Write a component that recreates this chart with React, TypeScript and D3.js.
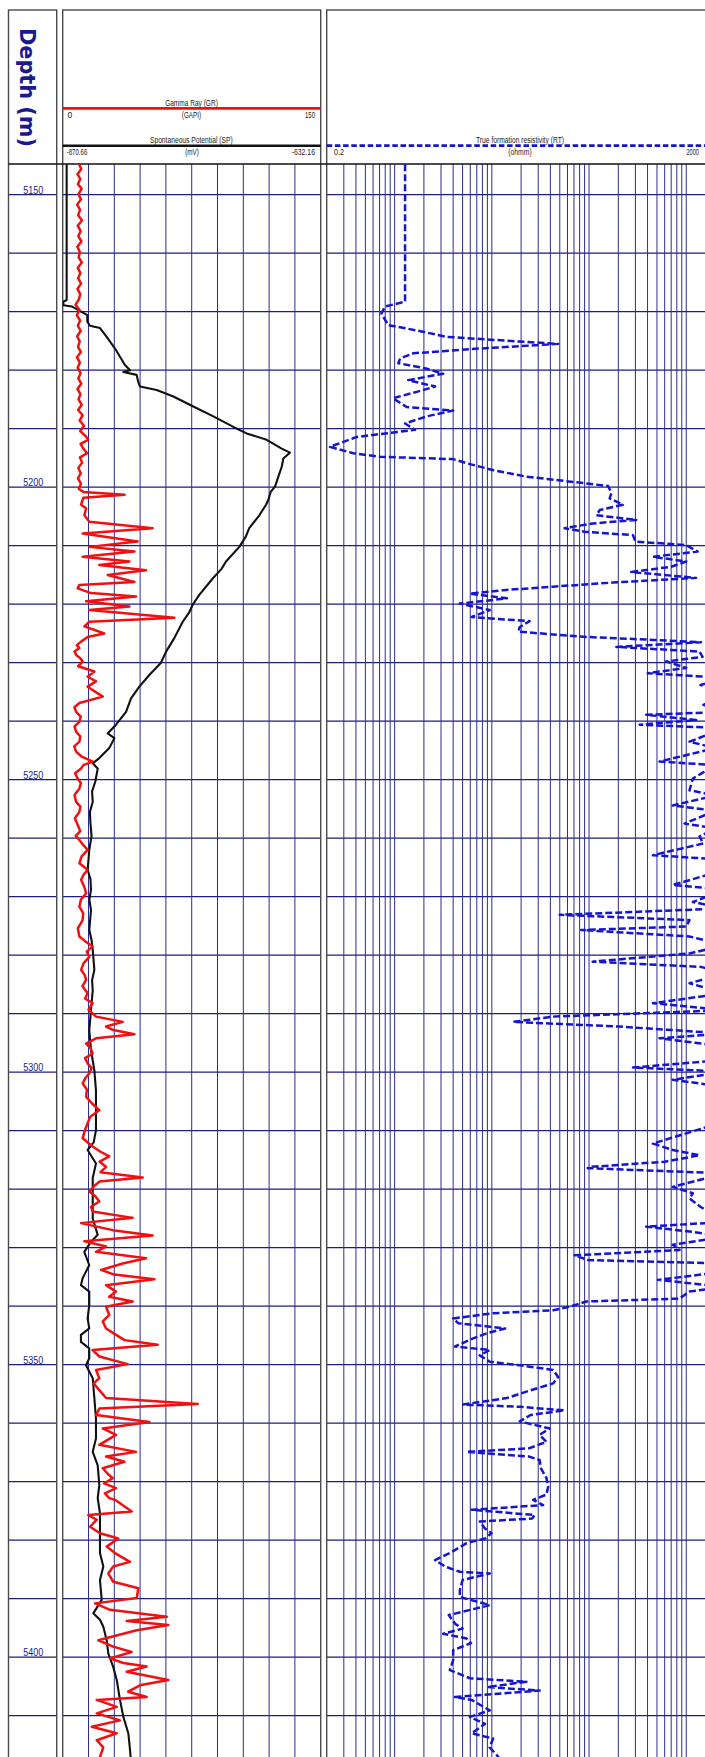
import React from 'react';
import * as d3 from 'd3';

// ---------- data ----------
const depthLabels = [5150, 5200, 5250, 5300, 5350, 5400];
const depthGrid = [5150, 5160, 5170, 5180, 5190, 5200, 5210, 5220, 5230, 5240, 5250, 5260, 5270, 5280, 5290, 5300, 5310, 5320, 5330, 5340, 5350, 5360, 5370, 5380, 5390, 5400, 5410];
const grGrid = [15, 30, 45, 60, 75, 90, 105, 120, 135];

// Gamma Ray (GAPI) vs depth (m)
const grData: [number, number][] = [
  [5144.8, 9.5], [5145.6, 10.8], [5146.5, 8.6], [5147.3, 10.2], [5148.2, 8.9], [5149.0, 11.0], [5149.9, 9.2], [5150.8, 10.6],
  [5151.7, 8.4], [5152.6, 10.1], [5153.5, 9.0], [5154.4, 11.2], [5155.3, 8.7], [5156.2, 10.4], [5157.1, 9.1], [5158.0, 10.9],
  [5158.9, 8.5], [5159.8, 10.0], [5160.7, 9.3], [5161.6, 11.1], [5162.5, 8.8], [5163.4, 10.3], [5164.3, 9.0], [5165.2, 10.7],
  [5166.1, 8.6], [5167.0, 10.2], [5167.9, 9.4], [5168.8, 7.5], [5169.7, 9.8], [5170.6, 8.2], [5171.5, 10.1], [5172.4, 8.8],
  [5173.3, 10.5], [5174.2, 8.4], [5175.1, 9.9], [5176.0, 8.9], [5176.9, 10.6], [5177.8, 8.3], [5178.7, 10.0], [5179.6, 8.7],
  [5180.5, 10.4], [5181.4, 9.1], [5182.3, 10.8], [5183.2, 8.6], [5184.1, 10.3], [5185.0, 9.2], [5185.9, 11.0], [5186.8, 9.0],
  [5187.7, 11.6], [5188.6, 9.8], [5189.5, 12.4], [5190.4, 10.2], [5191.3, 13.5], [5191.9, 14.8], [5192.6, 10.4], [5193.4, 12.0],
  [5194.2, 14.2], [5194.9, 10.0], [5195.8, 11.3], [5196.7, 9.1], [5197.6, 10.5], [5198.5, 8.9], [5199.4, 10.6], [5200.3, 9.4],
  [5200.8, 12.0], [5201.3, 36.0], [5201.8, 12.0], [5203.0, 10.7], [5203.6, 13.6], [5204.8, 12.6], [5205.9, 15.5], [5207.0, 52.3],
  [5207.9, 11.6], [5209.3, 43.6], [5210.2, 15.5], [5211.0, 41.7], [5211.9, 11.6], [5212.7, 38.8], [5213.3, 21.3], [5214.2, 48.4],
  [5215.0, 26.2], [5216.2, 41.7], [5216.7, 9.7], [5217.3, 8.7], [5218.1, 16.5], [5218.7, 42.6], [5219.5, 13.6], [5220.4, 38.8],
  [5221.0, 15.5], [5222.3, 64.9], [5223.0, 15.5], [5223.8, 12.6], [5225.0, 24.2], [5225.6, 14.5], [5226.4, 10.7], [5227.0, 8.2],
  [5227.5, 9.7], [5228.1, 6.9], [5228.7, 7.8], [5229.2, 10.1], [5229.8, 11.6], [5230.6, 9.0], [5231.5, 18.4], [5232.4, 14.5],
  [5233.2, 19.4], [5234.1, 14.5], [5235.8, 23.3], [5236.9, 9.7], [5237.6, 6.8], [5238.4, 7.8], [5239.2, 10.5], [5240.1, 9.7],
  [5240.9, 6.9], [5241.8, 7.8], [5242.6, 10.2], [5243.5, 9.7], [5244.3, 6.7], [5245.2, 7.8], [5246.0, 10.8], [5246.9, 17.4],
  [5247.5, 12.0], [5248.1, 10.7], [5248.9, 7.2], [5249.8, 8.7], [5250.6, 10.6], [5251.5, 9.7], [5252.6, 6.9], [5253.8, 7.8],
  [5254.6, 10.3], [5255.5, 9.7], [5256.6, 7.1], [5257.7, 8.7], [5258.8, 10.2], [5259.6, 7.6], [5260.3, 9.7], [5261.2, 12.0],
  [5262.0, 14.5], [5263.1, 11.0], [5264.3, 9.7], [5265.4, 14.5], [5266.2, 12.2], [5267.1, 10.7], [5268.3, 12.5], [5269.4, 13.6],
  [5270.5, 10.6], [5271.7, 9.7], [5272.8, 11.9], [5274.0, 11.6], [5275.4, 8.8], [5276.8, 9.7], [5277.6, 13.0], [5278.5, 17.4],
  [5279.4, 14.0], [5280.3, 15.5], [5281.4, 12.1], [5282.5, 10.7], [5283.4, 12.8], [5284.2, 13.6], [5285.3, 11.5], [5286.5, 14.5],
  [5287.4, 13.0], [5288.2, 17.4], [5289.3, 15.0], [5290.5, 19.4], [5291.4, 34.9], [5292.2, 25.2], [5292.8, 29.5], [5293.5, 41.7],
  [5294.2, 19.4], [5295.1, 13.6], [5295.9, 16.2], [5296.8, 17.4], [5297.6, 13.0], [5298.5, 14.5], [5299.3, 16.8], [5300.2, 15.5],
  [5301.0, 13.2], [5301.9, 11.6], [5303.0, 14.1], [5304.2, 13.6], [5305.4, 17.2], [5306.5, 21.3], [5307.6, 16.0], [5308.7, 14.5],
  [5310.0, 12.8], [5311.3, 11.6], [5312.7, 17.4], [5313.6, 22.0], [5314.4, 27.1], [5315.3, 21.5], [5316.2, 25.2], [5317.1, 22.0],
  [5318.0, 46.5], [5318.7, 21.3], [5319.5, 18.2], [5320.4, 15.5], [5321.2, 19.0], [5322.1, 21.3], [5323.0, 16.5], [5323.8, 17.4],
  [5324.9, 40.7], [5325.8, 10.7], [5327.0, 29.1], [5327.9, 52.3], [5328.9, 12.6], [5329.8, 25.2], [5330.7, 19.4], [5331.8, 48.4],
  [5332.7, 34.9], [5333.8, 22.3], [5334.6, 30.0], [5335.4, 53.3], [5336.4, 25.2], [5337.5, 31.0], [5338.4, 27.0], [5339.2, 40.7],
  [5340.1, 25.2], [5341.5, 27.1], [5342.6, 23.3], [5343.8, 25.2], [5344.9, 31.0], [5345.8, 36.0], [5346.6, 55.2], [5347.5, 17.4],
  [5348.6, 21.3], [5349.9, 37.8], [5350.9, 19.4], [5352.3, 21.3], [5353.2, 18.0], [5354.0, 20.3], [5355.7, 25.2], [5356.7, 78.5],
  [5357.5, 21.3], [5358.6, 19.4], [5359.8, 50.4], [5360.9, 23.3], [5362.0, 31.0], [5363.7, 21.3], [5364.9, 42.6], [5365.7, 25.2],
  [5366.6, 35.9], [5367.7, 23.3], [5368.6, 26.0], [5369.4, 29.1], [5370.3, 24.0], [5371.1, 31.0], [5372.0, 24.5], [5372.8, 27.1],
  [5373.1, 30.4], [5375.1, 40.1], [5375.7, 14.9], [5376.5, 19.8], [5377.7, 15.9], [5378.8, 21.7], [5379.7, 32.3], [5381.1, 25.6],
  [5382.2, 30.4], [5383.7, 39.1], [5384.5, 29.4], [5385.7, 26.5], [5387.1, 29.4], [5388.2, 44.0], [5389.9, 43.0], [5390.8, 18.8],
  [5391.9, 27.5], [5393.1, 60.5], [5393.8, 37.2], [5394.5, 61.4], [5395.4, 43.0], [5397.1, 20.7], [5398.2, 29.4], [5399.1, 40.1],
  [5400.2, 27.5], [5401.0, 35.3], [5401.6, 48.8], [5402.5, 37.2], [5403.9, 61.4], [5404.8, 44.9], [5405.9, 38.1], [5406.8, 48.8],
  [5407.3, 19.8], [5408.5, 31.4], [5409.6, 19.8], [5410.8, 33.3], [5411.9, 16.9], [5413.0, 31.4], [5414.2, 19.8], [5415.4, 23.6],
  [5417.0, 21.7], [5418.0, 24.0],
];

// Spontaneous Potential (mV) vs depth (m)
const spData: [number, number][] = [
  [5144.8, -867.0], [5168.0, -867.0], [5168.3, -870.1], [5168.9, -869.9], [5169.1, -862.3], [5170.6, -847.9], [5171.7, -847.9],
  [5172.4, -845.4], [5172.8, -836.2], [5174.3, -830.0], [5175.1, -826.9], [5176.3, -822.3], [5177.7, -817.7], [5179.1, -813.1],
  [5180.0, -808.4], [5180.3, -814.6], [5180.8, -802.3], [5182.0, -800.8], [5182.8, -799.2], [5183.4, -783.8], [5184.5, -768.4],
  [5186.2, -749.9], [5187.9, -731.4], [5189.7, -712.9], [5190.8, -700.6], [5191.9, -682.1], [5193.4, -668.2], [5194.1, -660.6],
  [5195.1, -666.7], [5196.5, -668.2], [5198.2, -671.3], [5199.9, -674.4], [5200.8, -678.4], [5202.2, -680.6], [5203.0, -682.7],
  [5204.8, -688.9], [5207.0, -698.2], [5208.5, -701.5], [5210.2, -707.4], [5212.7, -719.7], [5214.0, -724.0], [5215.6, -732.0],
  [5218.4, -744.4], [5220.1, -750.5], [5221.5, -754.0], [5223.0, -759.7], [5225.8, -767.5], [5228.1, -775.1], [5230.0, -779.8],
  [5232.1, -790.6], [5234.1, -799.8], [5236.1, -807.5], [5238.4, -812.1], [5240.6, -821.4], [5242.1, -829.1], [5242.9, -822.9],
  [5244.6, -827.6], [5246.3, -836.8], [5247.2, -842.9], [5248.1, -838.3], [5250.3, -840.5], [5252.0, -843.5], [5253.8, -842.9],
  [5255.5, -845.5], [5257.2, -845.1], [5259.6, -844.0], [5262.0, -846.1], [5265.4, -847.6], [5267.0, -845.0], [5268.8, -844.5],
  [5270.5, -846.0], [5272.3, -844.5], [5275.7, -846.1], [5277.4, -844.0], [5279.1, -842.9], [5282.5, -841.4], [5284.3, -843.5],
  [5286.0, -842.9], [5289.4, -844.5], [5292.8, -846.1], [5296.2, -844.5], [5299.7, -841.4], [5303.1, -839.9], [5306.5, -839.9],
  [5309.9, -839.9], [5312.0, -842.0], [5313.3, -847.6], [5315.6, -839.9], [5318.1, -842.9], [5321.6, -842.9], [5325.0, -842.9],
  [5327.8, -838.3], [5329.0, -844.5], [5330.7, -850.7], [5333.0, -846.1], [5335.2, -852.2], [5336.4, -853.8], [5337.5, -846.1],
  [5339.8, -846.1], [5342.1, -847.6], [5343.8, -846.1], [5344.9, -853.8], [5346.1, -853.8], [5347.2, -846.1], [5348.9, -846.1],
  [5350.1, -849.1], [5352.3, -842.9], [5355.7, -841.4], [5359.2, -839.9], [5362.6, -839.9], [5364.9, -842.9], [5367.2, -838.3],
  [5370.6, -836.8], [5372.8, -838.3], [5375.4, -836.2], [5377.7, -836.2], [5380.0, -836.2], [5382.2, -836.2], [5384.5, -833.1],
  [5386.8, -836.2], [5390.2, -834.6], [5392.5, -842.4], [5393.6, -836.2], [5394.8, -833.1], [5397.1, -830.0], [5399.4, -828.5],
  [5401.7, -823.9], [5403.9, -820.7], [5407.3, -817.7], [5410.2, -814.6], [5413.0, -810.0], [5415.9, -808.4], [5418.0, -807.5],
];

// True formation resistivity (ohmm) vs depth (m)
const rtData: [number, number][] = [
  [5144.8, 1.28], [5168.3, 1.28], [5169.1, 0.80], [5170.3, 0.73], [5172.3, 0.86], [5173.2, 1.69], [5174.3, 3.43], [5175.1, 19.4],
  [5175.5, 48], [5176.3, 7.5], [5177.1, 1.56], [5178.0, 1.14], [5178.8, 1.09], [5179.7, 2.1], [5180.6, 3.16], [5181.7, 1.38],
  [5182.8, 2.61], [5183.7, 1.69], [5184.8, 0.96], [5186.3, 1.33], [5186.9, 4.0], [5187.9, 2.13], [5189.1, 1.28], [5190.2, 1.62],
  [5191.4, 0.41], [5193.1, 0.216], [5194.2, 0.375], [5194.8, 0.71], [5195.2, 4.0], [5195.9, 5.5], [5197.1, 10.4], [5198.2, 22.7],
  [5199.1, 69], [5199.8, 157], [5201.0, 170], [5201.9, 163], [5203.0, 223], [5203.9, 129], [5204.8, 119], [5205.6, 306],
  [5206.2, 109], [5207.0, 56], [5207.6, 90], [5208.2, 283], [5209.3, 300], [5209.9, 1000], [5211.0, 1310], [5211.9, 454],
  [5212.7, 1000], [5213.6, 700], [5214.5, 272], [5215.5, 1262], [5216.3, 176], [5217.0, 42.7], [5217.6, 13.2], [5218.2, 5.94],
  [5219.0, 14.3], [5219.9, 4.69], [5221.0, 9.53], [5222.2, 6.19], [5222.9, 24.5], [5223.9, 19.4], [5224.7, 18.7], [5225.6, 94],
  [5226.1, 454], [5226.5, 1420], [5227.3, 191], [5228.1, 1370], [5229.0, 1470], [5229.8, 622], [5230.9, 1000], [5231.8, 402],
  [5232.6, 2500], [5233.8, 1400], [5235.5, 2500], [5237.2, 1500], [5238.4, 2500], [5238.9, 387], [5239.8, 1262], [5240.6, 331],
  [5241.2, 2500], [5243.5, 1080], [5244.6, 2000], [5246.9, 531], [5247.5, 2000], [5249.8, 1170], [5251.8, 1080], [5252.7, 2000],
  [5254.4, 728], [5255.3, 2000], [5257.5, 960], [5258.3, 2000], [5259.7, 1370], [5260.9, 1500], [5262.9, 454], [5263.7, 2500],
  [5265.4, 2500], [5268.0, 728], [5268.8, 2500], [5270.9, 1170], [5272.0, 2500], [5273.1, 50], [5274.0, 1080], [5275.1, 1000],
  [5275.7, 83], [5276.8, 1080], [5278.3, 2500], [5279.7, 1080], [5281.1, 109], [5282.0, 1420], [5283.1, 2500], [5284.8, 1080],
  [5286.5, 2500], [5288.2, 454], [5289.4, 2500], [5290.5, 42.7], [5291.4, 16.6], [5292.2, 206], [5293.4, 2500], [5294.2, 531],
  [5295.6, 2500], [5297.9, 2500], [5299.2, 283], [5299.9, 2500], [5301.3, 728], [5302.5, 2500], [5308.7, 2200], [5312.2, 454],
  [5313.3, 728], [5314.2, 1370], [5315.3, 600], [5316.2, 101], [5316.4, 97], [5317.3, 2500], [5319.6, 728], [5320.7, 1170],
  [5321.6, 1080], [5323.0, 1400], [5325.6, 2500], [5326.4, 387], [5327.3, 1170], [5328.1, 2500], [5329.5, 728], [5330.4, 853],
  [5331.3, 71], [5332.1, 97], [5332.7, 2500], [5334.1, 2500], [5335.5, 512], [5336.7, 2500], [5337.5, 1080], [5338.7, 853],
  [5339.2, 94], [5340.1, 63], [5340.7, 42.7], [5341.2, 10.3], [5342.1, 4.0], [5342.9, 4.5], [5343.8, 13.7], [5344.6, 9],
  [5345.5, 6.42], [5346.9, 4.16], [5347.5, 9.53], [5348.4, 7.5], [5349.5, 9.53], [5350.1, 19.4], [5350.9, 42.7], [5352.1, 48.1],
  [5353.2, 42.7], [5354.6, 22.7], [5355.7, 14.3], [5356.8, 5.06], [5357.2, 19.4], [5357.8, 56], [5358.6, 25], [5359.7, 19.4],
  [5360.9, 39.4], [5362.0, 31], [5363.2, 36.5], [5364.3, 24], [5364.9, 5.5], [5365.7, 24], [5366.3, 31], [5367.7, 32],
  [5369.4, 36.5], [5370.8, 38], [5372.2, 36.5], [5373.1, 26.6], [5374.0, 33.7], [5374.8, 6.19], [5375.7, 27.6], [5376.3, 26],
  [5376.8, 7.52], [5378.0, 8.5], [5378.8, 9.92], [5379.7, 8.5], [5380.5, 5.5], [5382.2, 3.7], [5383.4, 2.61], [5384.5, 3.3],
  [5385.4, 4.69], [5385.7, 9.53], [5386.8, 5.0], [5388.5, 4.69], [5389.7, 4.69], [5391.1, 9.53], [5392.8, 3.6], [5394.3, 4.2],
  [5395.1, 5.0], [5396.0, 3.16], [5396.8, 5.5], [5397.6, 6.1], [5398.8, 4.0], [5400.5, 4.0], [5402.2, 3.7], [5403.6, 5.94],
  [5404.2, 22.7], [5405.1, 9.0], [5405.7, 31], [5406.8, 4.16], [5407.3, 6.2], [5409.1, 9.53], [5410.2, 5.94], [5411.4, 8.5],
  [5413.0, 6.2], [5413.9, 10.3], [5415.4, 9.5], [5417.0, 11.6], [5418.0, 12],
];

const grRange = [0, 150];
const spRange = [-870.66, -632.16];
const rtRange = [0.2, 2000];
const grLabels = ['0', '150'];
const spLabels = ['-870.66', '-632.16'];
const rtLabels = ['0.2', '2000'];

// ---------- layout ----------
const W = 705;
const H = 1757;
const TOP = 10;
const HEAD_BOTTOM = 164;
const DEPTH_L = 8.5, DEPTH_R = 56.7;
const GR_L = 62.7, GR_R = 320.7;
const RT_L = 326.7, RT_R = 326.7 + 4 * 97.2;

const yScale = d3.scaleLinear().domain([5150, 5400]).range([194.7, 1657.2]);
const grScale = d3.scaleLinear().domain(grRange).range([GR_L, GR_R]);
const spScale = d3.scaleLinear().domain(spRange).range([GR_L, GR_R]);
const rtScale = d3.scaleLog().domain(rtRange).range([RT_L, RT_R]);

const grLine = d3.line<[number, number]>().x(d => grScale(d[1])).y(d => yScale(d[0]));
const spLine = d3.line<[number, number]>().x(d => spScale(d[1])).y(d => yScale(d[0]));
const rtLine = d3.line<[number, number]>().x(d => rtScale(d[1])).y(d => yScale(d[0]));

const rtGrid = rtScale.ticks().filter(v => v > 0.2 && v < 2000);

const GRID_H = '#1d1d82';
const GRID_V = '#2d2d8e';
const FRAME = '#4a4a4a';
const TXT = '#222';
const BLUE_TXT = '#1a1a90';
const NARROW = "'Liberation Sans Narrow', 'Arial Narrow', 'Liberation Sans', Arial, sans-serif";

export default function App() {
  return (
    <svg width={W} height={H} style={{ position: 'absolute', left: 0, top: 0, background: '#fff' }}
      xmlns="http://www.w3.org/2000/svg">
      <defs>
        <clipPath id="clipGR"><rect x={GR_L} y={HEAD_BOTTOM} width={GR_R - GR_L} height={H - HEAD_BOTTOM} /></clipPath>
        <clipPath id="clipRT"><rect x={RT_L} y={HEAD_BOTTOM} width={W - RT_L} height={H - HEAD_BOTTOM} /></clipPath>
      </defs>
      <rect x={0} y={0} width={W} height={H} fill="#fff" />

      {/* horizontal depth grid */}
      {depthGrid.map(d => (
        <g key={'h' + d}>
          <line x1={DEPTH_L} x2={DEPTH_R} y1={yScale(d)} y2={yScale(d)} stroke={GRID_H} strokeWidth={1.3} />
          <line x1={GR_L} x2={GR_R} y1={yScale(d)} y2={yScale(d)} stroke={GRID_H} strokeWidth={1.3} />
          <line x1={RT_L} x2={W} y1={yScale(d)} y2={yScale(d)} stroke={GRID_H} strokeWidth={1.3} />
        </g>
      ))}

      {/* vertical grid GR/SP track */}
      {grGrid.map(v => (
        <line key={'g' + v} x1={grScale(v)} x2={grScale(v)} y1={HEAD_BOTTOM} y2={H} stroke={GRID_V} strokeWidth={1} />
      ))}
      {/* vertical log grid RT track */}
      {rtGrid.map(v => (
        <line key={'r' + v} x1={rtScale(v)} x2={rtScale(v)} y1={HEAD_BOTTOM} y2={H} stroke={GRID_V} strokeWidth={1} />
      ))}

      {/* track frames */}
      <rect x={DEPTH_L} y={TOP} width={DEPTH_R - DEPTH_L} height={H} fill="none" stroke={FRAME} strokeWidth={1.4} />
      <rect x={GR_L} y={TOP} width={GR_R - GR_L} height={H} fill="none" stroke={FRAME} strokeWidth={1.4} />
      <rect x={RT_L} y={TOP} width={RT_R - RT_L} height={H} fill="none" stroke={FRAME} strokeWidth={1.4} />
      <line x1={DEPTH_L} x2={W} y1={HEAD_BOTTOM} y2={HEAD_BOTTOM} stroke="#111" strokeWidth={1.3} />

      {/* depth header */}
      <text transform={`translate(20,28) rotate(90)`} fontFamily="'DejaVu Sans', Verdana, sans-serif" fontWeight="bold"
        fontSize={21} fill={BLUE_TXT} textLength={119} lengthAdjust="spacingAndGlyphs">Depth (m)</text>

      {/* depth labels */}
      {depthLabels.map(d => (
        <text key={'dl' + d} x={23.3} y={yScale(d) - 1.2} fontFamily={NARROW} fontSize={10} fill={BLUE_TXT}
          textLength={20} lengthAdjust="spacingAndGlyphs">{d}</text>
      ))}

      {/* GR header */}
      <line x1={GR_L} x2={GR_R} y1={108.3} y2={108.3} stroke="#f01010" strokeWidth={2.7} />
      <text x={191.5} y={106} textAnchor="middle" fontFamily={NARROW} fontSize={8.5} fill={TXT} textLength={52.7} lengthAdjust="spacingAndGlyphs">Gamma Ray (GR)</text>
      <text x={191.5} y={117.5} textAnchor="middle" fontFamily={NARROW} fontSize={8.5} fill={TXT} textLength={19.3} lengthAdjust="spacingAndGlyphs">(GAPI)</text>
      <text x={67.5} y={117.5} fontFamily={NARROW} fontSize={8.5} fill={TXT}>{grLabels[0]}</text>
      <text x={315} y={117.5} textAnchor="end" fontFamily={NARROW} fontSize={8.5} fill={TXT} textLength={10} lengthAdjust="spacingAndGlyphs">{grLabels[1]}</text>

      {/* SP header */}
      <line x1={GR_L} x2={GR_R} y1={145.7} y2={145.7} stroke="#111" strokeWidth={2.6} />
      <text x={191.3} y={143.3} textAnchor="middle" fontFamily={NARROW} fontSize={8.5} fill={TXT} textLength={82.7} lengthAdjust="spacingAndGlyphs">Spontaneous Potential (SP)</text>
      <text x={192} y={155} textAnchor="middle" fontFamily={NARROW} fontSize={8.5} fill={TXT} textLength={13.7} lengthAdjust="spacingAndGlyphs">(mV)</text>
      <text x={66.7} y={155} fontFamily={NARROW} fontSize={8.5} fill={TXT} textLength={20.6} lengthAdjust="spacingAndGlyphs">{spLabels[0]}</text>
      <text x={315} y={155} textAnchor="end" fontFamily={NARROW} fontSize={8.5} fill={TXT} textLength={23.3} lengthAdjust="spacingAndGlyphs">{spLabels[1]}</text>

      {/* RT header */}
      <line x1={RT_L} x2={W} y1={145.7} y2={145.7} stroke="#1515d0" strokeWidth={2.8} strokeDasharray="5.5 2.7" />
      <text x={520} y={143.3} textAnchor="middle" fontFamily={NARROW} fontSize={8.5} fill={TXT} textLength={88} lengthAdjust="spacingAndGlyphs">True formation resistivity (RT)</text>
      <text x={520} y={155} textAnchor="middle" fontFamily={NARROW} fontSize={8.5} fill={TXT} textLength={23.3} lengthAdjust="spacingAndGlyphs">(ohmm)</text>
      <text x={334} y={155} fontFamily={NARROW} fontSize={8.5} fill={TXT} textLength={10} lengthAdjust="spacingAndGlyphs">{rtLabels[0]}</text>
      <text x={699} y={155} textAnchor="end" fontFamily={NARROW} fontSize={8.5} fill={TXT} textLength={12.5} lengthAdjust="spacingAndGlyphs">{rtLabels[1]}</text>

      {/* curves */}
      <g clipPath="url(#clipGR)">
        <path d={spLine(spData) || ''} fill="none" stroke="#111" strokeWidth={2.1} strokeLinejoin="round" />
        <path d={grLine(grData) || ''} fill="none" stroke="#f01010" strokeWidth={2.5} strokeLinejoin="round" />
      </g>
      <g clipPath="url(#clipRT)">
        <path d={rtLine(rtData) || ''} fill="none" stroke="#1515d0" strokeWidth={2.5} strokeDasharray="7 3" strokeLinejoin="round" />
      </g>
    </svg>
  );
}
